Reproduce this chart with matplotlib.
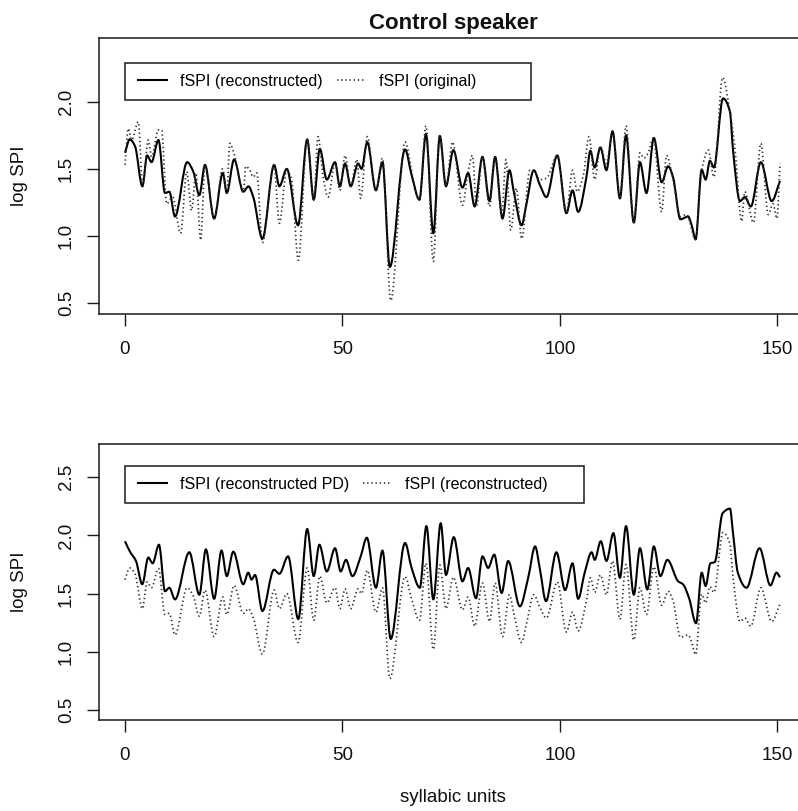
import numpy as np
import matplotlib
matplotlib.use("Agg")
import matplotlib.pyplot as plt
from matplotlib.lines import Line2D
from matplotlib.patches import Rectangle, PathPatch
from matplotlib.path import Path

plt.rcParams['font.family'] = ['Liberation Sans', 'DejaVu Sans']

# ---------------- data ----------------
title = "Control speaker"
xlabel = "syllabic units"
ylabel = "log SPI"
x_ticks = [0, 50, 100, 150]
y_ticks_top = [0.5, 1.0, 1.5, 2.0]
y_ticks_bottom = [0.5, 1.0, 1.5, 2.0, 2.5]
labels_top = ["fSPI (reconstructed)", "fSPI (original)"]
labels_bottom = ["fSPI (reconstructed PD)", "fSPI (reconstructed)"]

# fSPI (reconstructed)
recon_x = [0, 1.1, 2.3, 4.0, 5.1, 6.1, 7.7, 9.2, 10.2, 11.5, 14.3, 15.7, 17.1, 18.4,
           20.5, 22.5, 23.4, 25.1, 27.2, 28.4, 29.5, 31.6, 34.3, 35.5, 37.2, 39.8,
           41.9, 43.4, 44.8, 46.4, 48.3, 49.4, 50.6, 51.9, 53.6, 54.4, 55.7, 57.7,
           59.2, 60.9, 64.4, 65.9, 67.7, 69.2, 70.9, 72.4, 73.8, 75.5, 77.6, 78.9,
           80.4, 82.2, 83.8, 85.1, 86.8, 88.4, 89.4, 91.2, 92.2, 94.0, 95.4, 96.9,
           99.4, 101.5, 102.9, 104.2, 106.1, 107.0, 108.0, 109.3, 110.7, 112.1,
           113.8, 115.2, 117.0, 118.4, 119.9, 121.6, 123.4, 124.9, 126.0, 127.7,
           129.5, 130.3, 131.2, 132.6, 133.5, 134.5, 135.4, 137.5, 139.1, 139.8,
           141.4, 142.5, 143.9, 146.2, 148.7, 150.6]
recon_y = [1.62, 1.72, 1.67, 1.37, 1.60, 1.55, 1.715, 1.32, 1.33, 1.145, 1.55, 1.48,
           1.305, 1.53, 1.13, 1.47, 1.32, 1.57, 1.33, 1.37, 1.29, 0.98, 1.53, 1.37,
           1.50, 1.08, 1.72, 1.27, 1.65, 1.42, 1.55, 1.37, 1.54, 1.37, 1.54, 1.50,
           1.70, 1.34, 1.55, 0.77, 1.645, 1.455, 1.27, 1.76, 1.02, 1.745, 1.37, 1.64,
           1.36, 1.47, 1.22, 1.59, 1.26, 1.59, 1.13, 1.49, 1.33, 1.08, 1.22, 1.49,
           1.38, 1.29, 1.60, 1.17, 1.34, 1.18, 1.44, 1.635, 1.51, 1.66, 1.49, 1.78,
           1.28, 1.75, 1.10, 1.55, 1.32, 1.73, 1.40, 1.52, 1.44, 1.125, 1.145, 1.08,
           0.975, 1.495, 1.42, 1.56, 1.51, 2.025, 1.925, 1.64, 1.26, 1.29, 1.22,
           1.55, 1.26, 1.41]

# fSPI (original)
orig_x = [0, 0.77, 1.53, 3.07, 4.06, 5.36, 6.13, 7.66, 8.43, 9.58, 10.96, 12.8, 14.18,
          15.33, 16.3, 17.4, 18.4, 20.5, 22.45, 23.4, 24.1, 25.06, 27.2, 27.8, 28.7,
          29.5, 30.3, 31.6, 34.25, 35.5, 37.2, 38.3, 39.85, 41.9, 43.4, 44.4, 45.6,
          46.7, 48.3, 49.4, 50.6, 51.9, 53.3, 54.2, 55.7, 57.7, 59.2, 61.1, 64.4,
          66.3, 67.7, 69.2, 70.9, 72.3, 73.8, 75.3, 77.6, 78.9, 79.9, 80.8, 82.2,
          83.8, 85.1, 86.6, 87.6, 88.7, 90.0, 91.2, 93.1, 94.3, 95.4, 96.9, 99.4,
          101.5, 102.9, 104.0, 105.4, 106.7, 108.0, 109.3, 110.7, 112.1, 113.8,
          115.2, 117.0, 118.4, 119.3, 120.3, 121.5, 123.4, 124.5, 126.0, 127.7,
          129.1, 131.2, 132.6, 134.1, 135.4, 137.4, 139.1, 140.2, 141.8, 142.5,
          144.5, 146.2, 147.9, 149.0, 149.9, 150.6]
orig_y = [1.53, 1.80, 1.715, 1.85, 1.37, 1.715, 1.59, 1.79, 1.79, 1.24, 1.29, 1.02,
          1.48, 1.19, 1.47, 0.97, 1.53, 1.13, 1.50, 1.32, 1.69, 1.615, 1.33, 1.52,
          1.49, 1.44, 1.47, 0.95, 1.53, 1.095, 1.49, 1.42, 0.82, 1.72, 1.27, 1.74,
          1.43, 1.29, 1.54, 1.34, 1.60, 1.37, 1.57, 1.28, 1.74, 1.34, 1.58, 0.52,
          1.70, 1.42, 1.27, 1.82, 0.81, 1.75, 1.37, 1.70, 1.23, 1.48, 1.60, 1.22,
          1.59, 1.22, 1.59, 1.16, 1.57, 1.045, 1.355, 0.98, 1.49, 1.47, 1.42, 1.43,
          1.60, 1.17, 1.49, 1.33, 1.455, 1.74, 1.42, 1.665, 1.54, 1.78, 1.28, 1.82,
          1.10, 1.62, 1.58, 1.62, 1.73, 1.18, 1.60, 1.42, 1.145, 1.16, 0.975, 1.49,
          1.64, 1.44, 2.18, 1.925, 1.665, 1.11, 1.33, 1.10, 1.69, 1.16, 1.24, 1.13,
          1.54]

# fSPI (reconstructed PD)
pd_x = [0, 1.15, 2.53, 3.98, 5.36, 6.36, 7.82, 9.2, 10.2, 11.5, 14.8, 17.1, 18.6,
        20.5, 22.2, 23.4, 24.9, 27.2, 28.35, 29.1, 29.9, 31.6, 34.25, 35.5, 37.5,
        39.85, 41.9, 43.4, 44.7, 46.4, 48.3, 49.6, 50.8, 52.3, 54.2, 55.6, 57.7,
        59.2, 61.1, 64.4, 65.9, 67.8, 69.3, 70.9, 72.6, 73.8, 75.6, 77.6, 78.9,
        80.7, 82.2, 83.5, 84.9, 86.6, 88.1, 90.8, 92.7, 94.3, 95.4, 96.8, 99.2,
        101.2, 102.9, 104.2, 105.7, 107.3, 108.0, 109.4, 110.7, 112.3, 113.8,
        115.2, 117.0, 118.4, 120.1, 121.6, 123.1, 124.7, 127.2, 128.3, 129.7,
        131.3, 132.6, 133.5, 134.6, 135.6, 137.4, 139.1, 139.8, 140.9, 142.9,
        145.9, 148.4, 149.8, 150.6]
pd_y = [1.95, 1.86, 1.78, 1.58, 1.81, 1.76, 1.92, 1.52, 1.55, 1.45, 1.855, 1.49,
        1.88, 1.455, 1.87, 1.65, 1.86, 1.58, 1.68, 1.62, 1.66, 1.35, 1.705, 1.67,
        1.82, 1.28, 2.055, 1.65, 1.92, 1.69, 1.89, 1.69, 1.79, 1.65, 1.82, 1.98,
        1.55, 1.87, 1.11, 1.935, 1.72, 1.55, 2.08, 1.45, 2.105, 1.66, 1.985, 1.605,
        1.72, 1.46, 1.82, 1.72, 1.835, 1.505, 1.78, 1.39, 1.635, 1.905, 1.71,
        1.435, 1.855, 1.53, 1.76, 1.455, 1.68, 1.855, 1.79, 1.95, 1.78, 2.02,
        1.635, 2.08, 1.49, 1.89, 1.535, 1.905, 1.65, 1.79, 1.605, 1.58, 1.46,
        1.245, 1.68, 1.565, 1.76, 1.77, 2.19, 2.23, 2.02, 1.68, 1.55, 1.89, 1.57,
        1.68, 1.64]

# ---------------- figure ----------------
W, H = 798, 811
fig = plt.figure(figsize=(W / 100, H / 100), dpi=100)

def px_axes(left, right, top, bottom):
    return [left / W, 1 - bottom / H, (right - left) / W, (bottom - top) / H]

ax1 = fig.add_axes(px_axes(98.7, 808, 38, 314))
ax2 = fig.add_axes(px_axes(98.7, 808, 444, 720))

ink = '#1a1a1a'
solid_kw = dict(color='black', lw=1.5)
dot_kw = dict(color='#333333', lw=1.25, linestyle=(0, (0.8, 1.6)))


def smooth_curve(ax, xs, ys, color, lw, linestyle='-'):
    x = np.asarray(xs, float)
    y = np.asarray(ys, float)
    h = np.diff(x)
    d = np.diff(y) / h
    m = np.zeros_like(y)
    for i in range(1, len(y) - 1):
        if d[i - 1] * d[i] > 0:
            w1 = 2 * h[i] + h[i - 1]
            w2 = h[i] + 2 * h[i - 1]
            m[i] = (w1 + w2) / (w1 / d[i - 1] + w2 / d[i])
    m[0], m[-1] = d[0], d[-1]
    verts = [(x[0], y[0])]
    codes = [Path.MOVETO]
    for i in range(len(x) - 1):
        verts += [(x[i] + h[i] / 3, y[i] + m[i] * h[i] / 3),
                  (x[i + 1] - h[i] / 3, y[i + 1] - m[i + 1] * h[i] / 3),
                  (x[i + 1], y[i + 1])]
        codes += [Path.CURVE4] * 3
    ax.add_patch(PathPatch(Path(verts, codes), facecolor='none', edgecolor=color,
                           lw=lw, linestyle=linestyle, capstyle='butt',
                           joinstyle='round'))


smooth_curve(ax1, recon_x, recon_y, 'black', 1.5)
smooth_curve(ax1, orig_x, orig_y, '#333333', 1.25, (0, (0.8, 1.6)))
smooth_curve(ax2, pd_x, pd_y, 'black', 1.5)
smooth_curve(ax2, recon_x, recon_y, '#333333', 1.25, (0, (0.8, 1.6)))

ax1.set_ylim(0.42, 2.474)
ax2.set_ylim(0.414, 2.785)
ax1.set_yticks(y_ticks_top)
ax2.set_yticks(y_ticks_bottom)

fs = 13.5
for ax in (ax1, ax2):
    ax.set_xlim(-6.04, 157.04)
    ax.set_xticks(x_ticks)
    ax.set_xticklabels([str(t) for t in x_ticks])
    ax.set_yticklabels([f"{t:.1f}" for t in ax.get_yticks()])
    for s in ax.spines.values():
        s.set_color(ink)
        s.set_linewidth(1.1)
    ax.tick_params(axis='both', direction='out', length=8.6, width=1.0,
                   color=ink, labelsize=fs, labelcolor='#111111')
    ax.tick_params(axis='x', pad=10.5)
    ax.tick_params(axis='y', pad=8.5, labelrotation=90)
    for lab in ax.get_yticklabels():
        lab.set_verticalalignment('center')

# y labels
for ax in (ax1, ax2):
    pos = ax.get_position()
    fig.text(19.5 / W, (pos.y0 + pos.y1) / 2, ylabel, rotation=90,
             ha='center', va='center', fontsize=fs, color='#111111')

fig.text(453 / W, 1 - 23 / H, title, ha='center', va='center',
         fontsize=16, fontweight='bold', color='#111111')
fig.text(453 / W, 1 - 797 / H, xlabel, ha='center', va='center',
         fontsize=fs, color='#111111')

# legends (R style, boxed, horizontal)
def add_legend(ax, labels, x0, x1, y0, y1, xstart):
    handles = [Line2D([], [], **solid_kw), Line2D([], [], **dot_kw)]
    ax.add_patch(Rectangle((x0, y0), x1 - x0, y1 - y0, transform=ax.transAxes,
                           fill=False, edgecolor=ink, lw=1.1, zorder=5))
    ax.legend(handles, labels, ncol=2, loc='center left',
              bbox_to_anchor=(xstart, (y0 + y1) / 2), borderaxespad=0,
              borderpad=0, frameon=False, fontsize=11.5, handlelength=1.8,
              handletextpad=0.85, columnspacing=0.85)

add_legend(ax1, labels_top, 0.0371, 0.609, 0.7754, 0.9105, 0.0554)
add_legend(ax2, labels_bottom, 0.0371, 0.684, 0.7873, 0.9214, 0.0554)

fig.savefig("out.png", dpi=100)
